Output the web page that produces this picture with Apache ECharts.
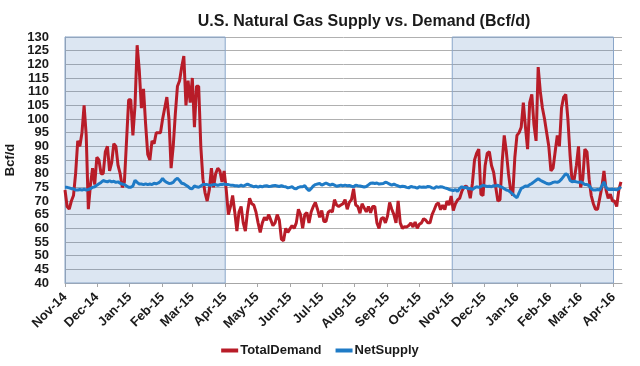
<!DOCTYPE html>
<html><head><meta charset="utf-8">
<script src="https://cdn.jsdelivr.net/npm/echarts@6/dist/echarts.min.js"></script>
<style>html,body{margin:0;padding:0;background:#fff}#c{width:640px;height:366px}</style>
</head><body><div id="c"></div>
<script>
// Samples every 2 days starting Nov 1, 2014
const sampleStart = [2014, 10, 1];
const sampleStepDays = 2;

const totalDemand = [
  74, 68, 67, 70, 72, 80, 92, 90, 95, 105,
  94, 67, 76, 82, 76, 86, 85, 80, 80, 88,
  90, 81, 84, 91, 90, 83, 80, 75, 77, 92,
  107, 107, 94, 105, 127, 118, 104, 111, 98, 87,
  85, 92, 91, 95, 95, 95, 100, 104, 108, 100,
  82, 90, 102, 112, 114, 119, 123, 105, 114, 106,
  115, 97, 112, 112, 90, 78, 73, 70, 74, 82,
  75, 80, 82, 81, 77, 81, 74, 65, 68, 72,
  66, 59, 66, 68, 62, 59, 66, 71, 69, 68.5,
  66, 62, 58.5, 62, 64, 63, 65, 63, 61, 62,
  65, 63, 56, 55.5, 60, 58.5, 59.8, 61, 60, 62,
  67, 65, 60, 65, 65.8, 62, 66, 68, 69.5, 67,
  64, 66.5, 62.5, 62.5, 65.8, 66.5, 66, 70.5, 68.5, 68,
  68.5, 69, 70.5, 67, 69.5, 70.5, 74.5, 68.5, 68, 65.5,
  69, 67.5, 66, 68, 65.7, 68, 68, 62, 60, 63.5,
  64, 62, 64.5, 69.5, 67, 65, 62, 70, 62, 60,
  60.6, 60.5, 61, 62, 60.5, 62.3, 60, 61.5, 62, 63.5,
  63, 62, 62, 65, 66.8, 68.7, 69.3, 66.8, 68.5, 66.8,
  70, 68.5, 71.8, 66.5, 69, 70.4, 71, 73.5, 75, 75.5,
  74.5, 71, 76.5, 85, 87.5, 89, 72.5, 72, 83, 87.5,
  88, 83, 80.5, 75, 70, 70.5, 84, 94, 88, 80,
  74, 72, 86, 94, 95, 97, 106, 97, 89, 106,
  109, 98, 92, 119, 110, 104, 100, 95, 90, 81,
  82, 88, 94, 90, 104, 108, 109, 100, 87, 77,
  78, 83, 90, 75, 78, 89, 88, 78, 72, 69,
  67, 67, 71, 75, 81, 74, 71, 72.5, 70, 70,
  68, 74, 77
];

const netSupply = [
  75, 75, 74.8, 74.5, 74.5, 74, 74, 74.2, 74, 74.3,
  74, 74.2, 74.5, 75, 75.2, 75.8, 76.3, 76.8, 77.5, 77.2,
  77, 77.4, 77, 77.2, 76.8, 77, 76.5, 76.2, 76, 75.5,
  75, 75, 75.5, 77.6, 76.8, 76.2, 76.2, 76, 76.3, 76,
  76.2, 76, 76.5, 76.3, 76.6, 77.2, 78.3, 77.3, 76.8, 76.4,
  76.5, 76.8, 77.8, 78.3, 77.5, 76.5, 76.3, 75.8, 75.3, 74.6,
  74.5, 75.5, 75.2, 75, 75.5, 76, 76, 76, 75.8, 75.8,
  76, 76, 75.7, 76, 76, 76.2, 76, 76, 75.8, 75.8,
  75.6, 75.6, 75.4, 75.8, 75.4, 75.8, 76.2, 75.8, 75.5, 75.2,
  75.4, 75.1, 75.4, 75.2, 75.5, 75.6, 75.3, 75.4, 75.6, 75.7,
  75.5, 75.3, 75.6, 75.3, 75.2, 74.8, 75, 75.2, 74.6, 74.5,
  75, 75.2, 75.2, 75.6, 74.5, 73.8, 74.5, 75.5, 76, 76.2,
  76.4, 75.8, 76.2, 76.6, 76.2, 75.8, 76.2, 75.8, 75.4, 75.6,
  75.8, 75.5, 75.8, 75.6, 75.7, 75.4, 75.2, 75.8, 75.6, 75.5,
  75.3, 75.1, 75.3, 75.9, 76.5, 76.6, 76.4, 76.6, 76.2, 76.3,
  76.4, 76.9, 76.6, 76.2, 75.8, 76.2, 75.8, 75.5, 75.2, 75.4,
  75.3, 75, 74.8, 75.3, 75.1, 75, 74.7, 75.2, 75, 75.1,
  75, 75.3, 75.2, 74.8, 74.7, 75.2, 75, 75.2, 75.1, 74.8,
  74.6, 74.2, 74, 73.8, 74.2, 73.5, 74.6, 75.2, 74.8, 75.1,
  74.5, 74.6, 74.2, 74.8, 75.2, 75, 75.3, 75.8, 75.5, 75.3,
  75.4, 75.2, 75.6, 75.5, 75.8, 75.3, 75, 74.5, 74, 73.8,
  73.2, 72.5, 71.8, 71.2, 73, 74.6, 75, 75.5, 75.4, 76,
  76.4, 77, 77.6, 78.2, 77.6, 77.2, 76.8, 76.4, 76.2, 76.4,
  76.8, 77, 76.8, 77.2, 78, 79, 80, 79.4, 77.6, 77,
  77.2, 77, 76.8, 77, 76.6, 76, 76, 75.6, 74.5, 74,
  74, 74.2, 74, 75.5, 77, 75, 74.2, 74.2, 74.3, 74.2,
  74.1, 74.5, 75.2
];

const monthNames = ['Jan','Feb','Mar','Apr','May','Jun','Jul','Aug','Sep','Oct','Nov','Dec'];
const winterShades = [[[2014, 10, 1], [2015, 3, 1]], [[2015, 10, 1], [2016, 3, 1]]];
const axisStart = [2014, 10, 1];
const axisEnd = [2016, 3, 9];
const yMin = 40, yMax = 130, yStep = 5;

function ts(a) { return new Date(a[0], a[1], a[2]).getTime(); }
function sampleTime(i) { return new Date(sampleStart[0], sampleStart[1], sampleStart[2] + i * sampleStepDays).getTime(); }

const demandData = totalDemand.map((v, i) => [sampleTime(i), v]);
const supplyData = netSupply.map((v, i) => [sampleTime(i), v]);

const chart = echarts.init(document.getElementById('c'), null, { renderer: 'canvas' });
const font = 'Liberation Sans, Arial, sans-serif';
const DAY = 86400000;

chart.setOption({
  animation: false,
  backgroundColor: '#ffffff',
  title: {
    text: 'U.S. Natural Gas Supply vs. Demand (Bcf/d)',
    left: 359, top: 9, textAlign: 'center',
    textStyle: { fontFamily: font, fontSize: 16, fontWeight: 'bold', color: '#1a1a1a' }
  },
  legend: {
    data: ['TotalDemand', 'NetSupply'],
    left: 'center', bottom: 4,
    icon: 'rect', itemWidth: 17, itemHeight: 4, itemGap: 14,
    textStyle: { fontFamily: font, fontSize: 13, fontWeight: 'bold', color: '#1a1a1a', padding: [0, 0, 0, -3] }
  },
  grid: { left: 65, right: 18, top: 37, bottom: 83, containLabel: false, outerBoundsMode: 'none' },
  xAxis: {
    type: 'time',
    min: ts(axisStart), max: ts(axisEnd),
    minInterval: 28 * DAY, maxInterval: 31 * DAY,
    splitLine: { show: false },
    axisLine: { show: true, lineStyle: { color: '#a6a6a6', width: 1 } },
    axisTick: { show: true, length: 4, lineStyle: { color: '#a6a6a6' } },
    axisLabel: {
      rotate: 45, margin: 12, hideOverlap: false,
      fontFamily: font, fontSize: 13, fontWeight: 'bold', color: '#1a1a1a',
      formatter: function (val) {
        const d = new Date(val);
        return monthNames[d.getMonth()] + '-' + String(d.getFullYear()).slice(2);
      }
    }
  },
  yAxis: {
    type: 'value', min: yMin, max: yMax, interval: yStep,
    name: 'Bcf/d', nameLocation: 'middle', nameRotate: 90, nameGap: 48,
    nameMoveOverlap: false,
    nameTextStyle: { fontFamily: font, fontSize: 13, fontWeight: 'bold', color: '#1a1a1a' },
    axisLine: { show: true, lineStyle: { color: '#a6a6a6' } },
    axisTick: { show: false },
    splitLine: { show: true, lineStyle: { color: '#b0b0b0', width: 1 } },
    axisLabel: { margin: 16, fontFamily: font, fontSize: 13, fontWeight: 'bold', color: '#1a1a1a' }
  },
  series: [
    {
      name: 'TotalDemand', type: 'line', data: demandData,
      showSymbol: false, symbol: 'none', color: '#b81c28',
      lineStyle: { width: 3, color: '#b81c28' },
      z: 3,
      markArea: {
        silent: true,
        itemStyle: { color: 'rgba(79,129,189,0.2)', borderColor: '#8aa6c9', borderWidth: 1 },
        data: winterShades.map(r => [{ xAxis: ts(r[0]) }, { xAxis: ts(r[1]) }])
      }
    },
    {
      name: 'NetSupply', type: 'line', data: supplyData,
      showSymbol: false, symbol: 'none', color: '#1f7bc6',
      lineStyle: { width: 3, color: '#1f7bc6' },
      z: 4
    }
  ]
});
</script>
</body></html>
